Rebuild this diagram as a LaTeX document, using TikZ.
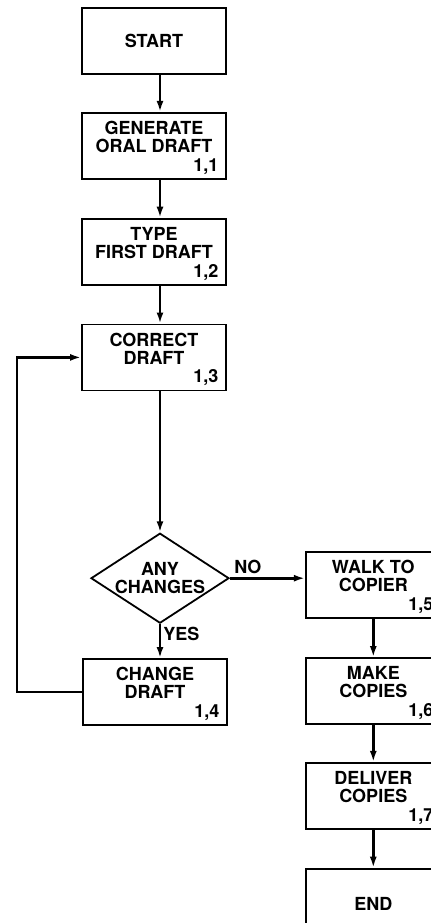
\documentclass[tikz,border=0pt]{standalone}
\usepackage{fontspec}
\setmainfont{TeX Gyre Heros}
\usetikzlibrary{shapes.geometric, arrows.meta, positioning}

\begin{document}
\begin{tikzpicture}[
  node distance=19pt and 37.5pt,
  every node/.style={font=\fontsize{9}{9}\selectfont\bfseries},
  stepbox/.style={draw, line width=0.9pt, minimum width=72pt,
                  minimum height=33pt, inner sep=0pt, align=center},
  copybox/.style={stepbox, minimum width=67.5pt},
  decbox/.style={draw, diamond, aspect=1.53, line width=0.9pt, minimum width=69pt,
                 minimum height=45pt, inner sep=-2pt, align=center},
  num/.style={anchor=base east, inner sep=0pt, xshift=-4pt, yshift=4.25pt},
  arr/.style={-{Latex[length=5.5pt,width=3.5pt]}, line width=1.4pt}
]
\path[use as bounding box, clip] (0,0) rectangle (215.5pt,-461.5pt);

% main column
\node[stepbox] (start) at (77pt,-20.5pt) {START};
\node[stepbox, below=18.5pt of start, label={[num]south east:1,1}] (gen)
  {GENERATE\\ORAL DRAFT\\\phantom{1}};
\node[stepbox, below=of gen, label={[num]south east:1,2}] (type)
  {TYPE\\FIRST DRAFT\\\phantom{1}};
\node[stepbox, below=of type, label={[num]south east:1,3}] (corr)
  {CORRECT\\DRAFT\\\phantom{1}};
\node[decbox, below=70.5pt of corr, xshift=3pt] (dec) {ANY\\CHANGES};
\node[stepbox, below=17pt of dec, xshift=-2.5pt, label={[num]south east:1,4}] (chg)
  {CHANGE\\DRAFT\\\phantom{1}};

% copy column
\node[copybox, right=of dec, yshift=-3.5pt, label={[num]south east:1,5}] (walk)
  {WALK TO\\COPIER\\\phantom{1}};
\node[copybox, below=of walk, label={[num]south east:1,6}] (make)
  {MAKE\\COPIES\\\phantom{1}};
\node[copybox, below=18.5pt of make, label={[num]south east:1,7}] (dlv)
  {DELIVER\\COPIES\\\phantom{1}};
\node[copybox, below=of dlv, minimum height=35pt] (end) {END};

\coordinate (loop) at (8.5pt,0);

\draw[arr] (start.south -| dec) -- (gen.north -| dec);
\draw[arr] (gen.south -| dec)   -- (type.north -| dec);
\draw[arr] (type.south -| dec)  -- (corr.north -| dec);
\draw[arr] (corr.south -| dec)  -- (dec.north);
\draw[arr] (dec.south) -- node[pos=0, anchor=north west, inner sep=1pt] (yes) {YES}
  (chg.north -| dec);
\draw[arr] (dec.east) -- node[pos=0, anchor=south west, inner sep=1.5pt] (no) {NO}
  (dec.east -| walk.west);
\draw[arr] (chg.west) -- (chg.west -| loop) |- (corr.west);

\draw[arr] (walk) -- (make);
\draw[arr] (make) -- (dlv);
\draw[arr] (dlv)  -- (end);

\end{tikzpicture}
\end{document}
